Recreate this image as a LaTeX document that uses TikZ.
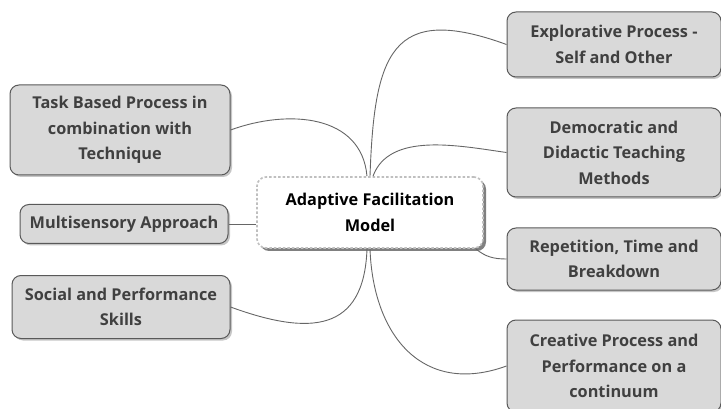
\documentclass[tikz,border=0pt]{standalone}
\usepackage{fontspec}
\setmainfont{Open Sans}
\usetikzlibrary{shadows}

\begin{document}
\begin{tikzpicture}[x=1pt,y=-1pt]
		\tikzset{idea box/.style={draw=black!65,line width=1pt,rounded corners=9pt,fill=black!15,align=center,text=black!75,font=\bfseries\fontsize{16.3}{25.5}\selectfont,inner sep=0pt,drop shadow={shadow xshift=2pt,shadow yshift=-2pt,opacity=0.45}},
			core box/.style={draw=black!25,dash pattern=on 2.5pt off 2pt,line width=1.6pt,rounded corners=9pt,fill=white,align=center,font=\bfseries\fontsize{16.3}{25.5}\selectfont,inner sep=0pt,drop shadow={shadow xshift=3pt,shadow yshift=-3pt,opacity=1}},
			link/.style={draw=black!60,line width=0.9pt}}
		
		\useasboundingbox (0,0) rectangle (721,409);
		\node [core box,minimum width=226pt,minimum height=71pt] (core) at (370,212.5) {Adaptive Facilitation\\Model};
		
		\node [idea box,minimum width=220pt,minimum height=90pt] (task) at (120,130) {Task Based Process in\\combination with\\Technique};
		\node [idea box,minimum width=208pt,minimum height=39pt] (multi) at (124,224) {Multisensory Approach};
		\node [idea box,minimum width=218pt,minimum height=63pt] (social) at (121,307) {Social and Performance\\Skills};
		
		\node [idea box,minimum width=214pt,minimum height=65pt] (explore) at (614,44.5) {Explorative Process -\\Self and Other};
		\node [idea box,minimum width=214pt,minimum height=89pt] (demo) at (614,152.5) {Democratic and\\Didactic Teaching\\Methods};
		\node [idea box,minimum width=214pt,minimum height=62pt] (repeat) at (614,259) {Repetition, Time and\\Breakdown};
		\node [idea box,minimum width=214pt,minimum height=92pt] (create) at (614,366) {Creative Process and\\Performance on a\\continuum};
		
		% connectors
		\draw [link] (task.east) to[out=20,in=95,looseness=1.1] ([xshift=-3pt]core.north);
		\draw [link] (core.north) to[out=88,in=160,looseness=1.65] (explore.west);
		\draw [link] ([xshift=3pt]core.north) to[out=70,in=172,looseness=0.9] (demo.west);
		\draw [link] (multi.east) -- (multi.east -| core.west);
		\draw [link] ([xshift=-8pt]core.south east) to[out=-40,in=180] (repeat.west);
		\draw [link] ([xshift=-3pt]core.south) to[out=-92,in=-20,looseness=1.45] (social.east);
		\draw [link] (core.south) to[out=-88,in=-160,looseness=1.25] (create.west);
		\end{tikzpicture}
\end{document}
